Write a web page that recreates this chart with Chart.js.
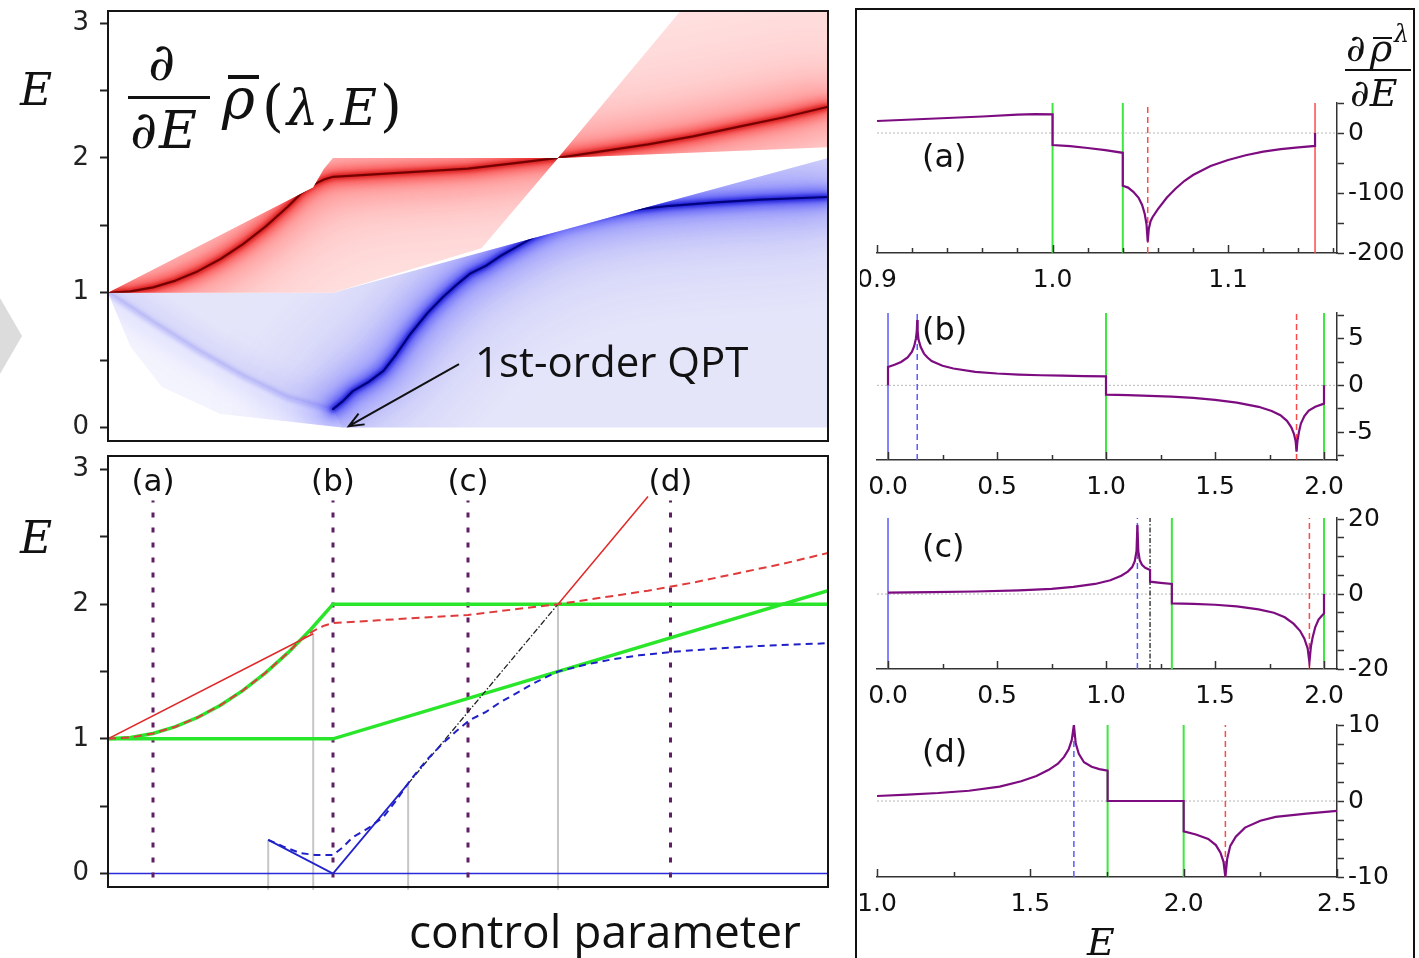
<!DOCTYPE html>
<html>
<head>
<meta charset="utf-8">
<script src="https://cdn.jsdelivr.net/npm/chart.js@4.4.0/dist/chart.umd.min.js"></script>
<style>
html, body { margin: 0; padding: 0; background: #fff; }
body { width: 1419px; height: 958px; position: relative; overflow: hidden; color: #111; }
canvas { position: absolute; }
.t { position: absolute; line-height: 1; white-space: nowrap; z-index: 5; }
.math { font-family: 'DejaVu Serif', serif; font-style: italic; }
.up { font-style: normal; }
.sans { font-family: 'DejaVu Sans', sans-serif; }
.note { font-family: 'Open Sans', sans-serif; }
.bar { position: absolute; background: #111; z-index: 5; }
#chevron { position: absolute; left: 0; top: 298px; width: 22px; height: 76px; background: #dcdcdc;
  clip-path: polygon(0 0, 100% 50%, 0 100%); }
#rightBox { position: absolute; left: 855px; top: 8px; width: 560px; height: 970px;
  border: 2px solid #111; box-sizing: border-box; }
</style>
</head>
<body>
<div id="chevron"></div>
<div id="rightBox"></div>

<canvas id="spectrum" width="840" height="450" style="left:0;top:0"></canvas>
<canvas id="levels" width="840" height="460" style="left:0;top:450px"></canvas>
<canvas id="panelA" width="555" height="290" style="left:860px;top:12px"></canvas>
<canvas id="panelB" width="555" height="205" style="left:860px;top:300px"></canvas>
<canvas id="panelC" width="555" height="207" style="left:860px;top:505px"></canvas>
<canvas id="panelD" width="555" height="246" style="left:860px;top:712px"></canvas>

<!-- left panel labels -->
<div class="t math" style="left:20px;top:68px;font-size:44px">E</div>
<div class="t math" style="left:20px;top:516px;font-size:44px">E</div>
<div class="t math" style="left:148px;top:36px;font-size:52px">∂</div>
<div class="bar" style="left:128px;top:96px;width:82px;height:3px"></div>
<div class="t math" style="left:130px;top:104px;font-size:52px;letter-spacing:2px">∂E</div>
<div class="bar" style="left:228px;top:75px;width:31px;height:4px"></div>
<div class="t math" style="left:222px;top:71px;font-size:56px">ρ</div>
<div class="t math" style="left:262px;top:83px;font-size:50px;letter-spacing:3px"><span class="up" style="font-size:56px;line-height:0">(</span>λ,E<span class="up" style="font-size:56px;line-height:0">)</span></div>
<div class="t note" style="left:475px;top:340px;font-size:42px">1st-order QPT</div>
<div class="t note" style="left:409px;top:907px;font-size:46px">control parameter</div>

<!-- right panel labels -->
<div class="t math" style="left:1346px;top:29px;font-size:38px">∂</div>
<div class="bar" style="left:1373px;top:37px;width:19px;height:2px"></div>
<div class="t math" style="left:1370px;top:29px;font-size:38px">ρ</div>
<div class="t math" style="left:1394px;top:22px;font-size:24px">λ</div>
<div class="bar" style="left:1345px;top:69px;width:66px;height:2px"></div>
<div class="t math" style="left:1350px;top:74px;font-size:38px">∂E</div>
<div class="t sans" style="left:922px;top:140px;font-size:32px">(a)</div>
<div class="t sans" style="left:922px;top:313px;font-size:32px">(b)</div>
<div class="t sans" style="left:922px;top:530px;font-size:32px">(c)</div>
<div class="t sans" style="left:922px;top:735px;font-size:32px">(d)</div>
<div class="t math" style="left:1087px;top:923px;font-size:38px">E</div>

<script>
// ---------- left panels: energy E against control parameter λ ----------
const lamRange = [0, 1.6];
const eRangeTop = [-0.1, 3.09];
const eRangeBottom = [-0.1, 3.1];
const eTicks = [0, 0.5, 1, 1.5, 2, 2.5, 3];
const eTickLabels = ['0', '', '1', '', '2', '', '3'];

// lower panel curves
const greenFlatX = [0, 0.5, 1.6];
const greenFlatE = [1, 1, 2.1];
const greenBendX = [0, 0.05, 0.1, 0.15, 0.2, 0.25, 0.3, 0.35, 0.4, 0.45, 0.5, 1.6];
const greenBendE = [1, 1.01, 1.04, 1.09, 1.16, 1.25, 1.36, 1.49, 1.64, 1.81, 2.0, 2.0];
const redDashX = [0, 0.05, 0.1, 0.15, 0.2, 0.25, 0.3, 0.35, 0.4, 0.43, 0.456, 0.48, 0.5, 0.6, 0.7, 0.8, 0.9, 1.0, 1.1, 1.2, 1.3, 1.4, 1.5, 1.6];
const redDashE = [1, 1.01, 1.04, 1.09, 1.16, 1.25, 1.36, 1.49, 1.64, 1.74, 1.8, 1.84, 1.86, 1.88, 1.9, 1.92, 1.96, 2.0, 2.05, 2.1, 2.16, 2.23, 2.3, 2.38];
const redSolidX = [0, 0.456];
const redSolidE = [1, 1.78];
const redSteepX = [1.0, 1.2];
const redSteepE = [2.0, 2.8];
const dashDotX = [0.667, 1.0];
const dashDotE = [0.667, 2.0];
const blueSolidX = [0.356, 0.5, 0.667];
const blueSolidE = [0.25, 0, 0.667];
const blueZeroX = [0, 1.6];
const blueZeroE = [0, 0];
const blueDashX = [0.356, 0.39, 0.427, 0.46, 0.5, 0.52, 0.544, 0.58, 0.612, 0.64, 0.671, 0.71, 0.745, 0.775, 0.804, 0.84, 0.871, 0.908, 0.95, 1.0, 1.06, 1.12, 1.18, 1.25, 1.35, 1.45, 1.6];
const blueDashE = [0.25, 0.2, 0.152, 0.138, 0.137, 0.19, 0.27, 0.34, 0.42, 0.54, 0.69, 0.85, 0.97, 1.06, 1.14, 1.2, 1.27, 1.34, 1.42, 1.5, 1.55, 1.59, 1.62, 1.645, 1.67, 1.69, 1.71];
const grayLineX = [0.356, 0.456, 0.667, 1.0];
const grayLineTopE = [0.25, 1.78, 0.667, 2.0];
const grayLineBottomE = -0.12;
const cutX = [0.1, 0.5, 0.8, 1.25];
const cutLabels = ['(a)', '(b)', '(c)', '(d)'];
const cutSpanE = [-0.03, 2.77];

// upper panel: edges of the red and blue density bands and a faint blue ridge
const redBandUpperX = [0, 0.456, 0.48, 0.5, 1.0];
const redBandUpperE = [1, 1.78, 1.92, 2.0, 2.0];
const redBandLowerX = [0, 0.5, 0.83, 1.0];
const redBandLowerE = [1, 1, 1.33, 2.0];
const redWedgeUpperX = [1.0, 1.272, 1.6];
const redWedgeUpperE = [2.0, 3.09, 3.09];
const redWedgeLowerX = [1.0, 1.6];
const redWedgeLowerE = [2.0, 2.08];
const blueBandUpperX = [0, 0.5, 1.6];
const blueBandUpperE = [1, 1, 2.0];
const blueBandLowerX = [0, 0.1, 0.2, 0.3, 0.4, 0.5, 0.52, 1.6];
const blueBandLowerE = [1, 0.78, 0.57, 0.38, 0.22, 0.13, 0, 0];
const blueFringeX = [0, 0.05, 0.12, 0.25, 0.52];
const blueFringeE = [1, 0.6, 0.3, 0.1, 0];
const blueFaintX = [0, 0.1, 0.2, 0.3, 0.4, 0.5];
const blueFaintE = [1, 0.78, 0.57, 0.38, 0.22, 0.13];
const qptArrowTail = [0.78, 0.47];
const qptArrowHead = [0.535, 0.01];

// ---------- right panels: d(rho)/dE against E ----------
const aTicksX = [0.9, 0.92, 0.94, 0.96, 0.98, 1.0, 1.02, 1.04, 1.06, 1.08, 1.1, 1.12, 1.14, 1.16];
const aTickLabelsX = ['0.9', '', '', '', '', '1.0', '', '', '', '', '1.1', '', '', ''];
const aTicksY = [-200, -150, -100, -50, 0, 50];
const aTickLabelsY = ['-200', '', '-100', '', '0', ''];
const aCurveE = [0.9, 0.92, 0.94, 0.96, 0.98, 0.99, 1.0, 1.0, 1.01, 1.02, 1.03, 1.04, 1.04, 1.043, 1.046, 1.049, 1.051, 1.0525, 1.0535, 1.0542, 1.0548, 1.0558, 1.057, 1.06, 1.065, 1.07, 1.075, 1.08, 1.09, 1.1, 1.11, 1.12, 1.13, 1.14, 1.1495, 1.1495];
const aCurveD = [20, 22.5, 25, 27.5, 30.5, 31.5, 31, -20, -22, -25, -28.5, -33, -88, -91, -98, -108, -120, -135, -152, -181, -160, -147, -140, -127, -108, -93, -80, -70, -55, -45, -37, -31, -27, -24, -21.5, 0];
const aGreenE = [1.0, 1.04];
const aRedDashE = [1.0542];
const aRedE = [1.1495];

const bcTicksX = [0, 0.25, 0.5, 0.75, 1.0, 1.25, 1.5, 1.75, 2.0];
const bcTickLabelsX = ['0.0', '', '0.5', '', '1.0', '', '1.5', '', '2.0'];
const bTicksY = [-7.5, -5, -2.5, 0, 2.5, 5, 7.5];
const bTickLabelsY = ['', '-5', '', '0', '', '5', ''];
const bCurveE = [0, 0, 0.03, 0.06, 0.09, 0.11, 0.12, 0.128, 0.132, 0.134, 0.136, 0.14, 0.15, 0.165, 0.18, 0.2, 0.25, 0.3, 0.4, 0.5, 0.6, 0.7, 0.8, 0.9, 1.0, 1.0, 1.1, 1.2, 1.3, 1.4, 1.5, 1.6, 1.7, 1.76, 1.8, 1.83, 1.85, 1.862, 1.87, 1.874, 1.878, 1.885, 1.894, 1.91, 1.93, 1.96, 2.0, 2.0];
const bCurveD = [0, 1.96, 2.2, 2.5, 3.0, 3.6, 4.2, 5.0, 5.8, 7.0, 5.8, 4.9, 4.1, 3.4, 3.0, 2.6, 2.1, 1.8, 1.45, 1.27, 1.15, 1.08, 1.03, 0.99, 0.96, -1.0, -1.05, -1.12, -1.22, -1.35, -1.55, -1.85, -2.3, -2.75, -3.2, -3.8, -4.5, -5.2, -6.0, -7.1, -6.0, -5.0, -4.1, -3.3, -2.7, -2.3, -1.96, 0];
const bBlueE = [0];
const bBlueDashE = [0.134];
const bGreenE = [1.0, 2.0];
const bRedDashE = [1.874];

const cTicksY = [-20, -15, -10, -5, 0, 5, 10, 15, 20];
const cTickLabelsY = ['-20', '', '', '', '0', '', '', '', '20'];
const cCurveE = [0, 0.2, 0.4, 0.6, 0.75, 0.85, 0.95, 1.02, 1.07, 1.1, 1.12, 1.132, 1.14, 1.144, 1.148, 1.155, 1.165, 1.18, 1.202, 1.202, 1.25, 1.302, 1.302, 1.4, 1.5, 1.6, 1.7, 1.77, 1.82, 1.86, 1.89, 1.91, 1.925, 1.933, 1.94, 1.948, 1.96, 1.975, 1.99, 2.0, 2.0];
const cCurveD = [0.36, 0.5, 0.68, 1.0, 1.4, 1.9, 2.7, 3.7, 4.9, 6.0, 7.2, 8.8, 11.5, 18.4, 11.5, 9.0, 7.8, 7.0, 6.45, 3.3, 3.0, 2.7, -2.5, -2.6, -2.85, -3.3, -4.1, -5.0, -6.2, -7.9, -9.8, -11.9, -14.5, -18.2, -14, -11.5, -8.8, -6.8, -5.8, -5.2, 0];
const cBlueE = [0];
const cBlueDashE = [1.144];
const cDashDotE = [1.202];
const cGreenE = [1.302, 2.0];
const cRedDashE = [1.933];

const dTicksX = [1.0, 1.25, 1.5, 1.75, 2.0, 2.25, 2.5];
const dTickLabelsX = ['1.0', '', '1.5', '', '2.0', '', '2.5'];
const dTicksY = [-10, -7.5, -5, -2.5, 0, 2.5, 5, 7.5, 10];
const dTickLabelsY = ['-10', '', '', '', '0', '', '', '', '10'];
const dCurveE = [1.0, 1.1, 1.2, 1.3, 1.4, 1.47, 1.52, 1.56, 1.59, 1.61, 1.625, 1.635, 1.642, 1.648, 1.658, 1.675, 1.7, 1.725, 1.752, 1.752, 2.0, 2.0, 2.04, 2.08, 2.105, 2.12, 2.13, 2.136, 2.142, 2.152, 2.17, 2.2, 2.25, 2.3, 2.4, 2.5];
const dCurveD = [0.66, 0.85, 1.05, 1.35, 1.9, 2.6, 3.3, 4.1, 4.9, 5.8, 6.8, 8.0, 10, 7.6, 6.2, 5.1, 4.5, 4.2, 4.0, 0, 0, -4.0, -4.4, -5.0, -5.8, -6.8, -8.0, -10, -7.6, -5.9, -4.7, -3.5, -2.6, -2.1, -1.65, -1.3];
const dBlueDashE = [1.642];
const dGreenE = [1.752, 2.0];
const dRedDashE = [2.136];

// ---------- helpers ----------
Chart.defaults.font.family = 'DejaVu Sans';

const pts = (xs, ys) => xs.map((x, i) => ({ x: x, y: ys[i] }));
const polygon = (ux, ue, lx, le) => pts(ux, ue).concat(pts(lx, le).reverse());

function lineDs(xs, ys, color, width, dash, extra) {
  return Object.assign({
    data: pts(xs, ys), showLine: true, borderColor: color, borderWidth: width,
    borderDash: dash || [], pointRadius: 0, pointHoverRadius: 0, fill: false, tension: 0
  }, extra || {});
}

// first entry is painted first (lowest)
function paintOrder(list) {
  return list.map((d, i) => Object.assign(d, { order: list.length - i }));
}

function tracePolys(ctx, chart, polys) {
  const sx = chart.scales.x, sy = chart.scales.y;
  ctx.beginPath();
  polys.forEach(pl => {
    pl.forEach((p, i) => {
      const px = sx.getPixelForValue(p.x), py = sy.getPixelForValue(p.y);
      if (i === 0) ctx.moveTo(px, py); else ctx.lineTo(px, py);
    });
    ctx.closePath();
  });
}

// datasets carrying clipTo are only painted inside those polygons,
// and those carrying blur are softened into a density halo
Chart.register({
  id: 'regionClip',
  beforeDatasetDraw(chart, args) {
    const ds = chart.data.datasets[args.index];
    if (!ds.clipTo && !ds.blur) return;
    const ctx = chart.ctx;
    ctx.save();
    if (ds.clipTo) {
      tracePolys(ctx, chart, ds.clipTo);
      ctx.clip();
    }
    if (ds.blur) ctx.filter = 'blur(' + ds.blur + 'px)';
  },
  afterDatasetDraw(chart, args) {
    const ds = chart.data.datasets[args.index];
    if (ds.clipTo || ds.blur) chart.ctx.restore();
  }
});

const framePlugin = {
  id: 'frame',
  afterDraw(chart) {
    const { ctx, chartArea: a } = chart;
    ctx.save();
    ctx.strokeStyle = '#151515';
    ctx.lineWidth = 2;
    ctx.strokeRect(a.left, a.top, a.right - a.left, a.bottom - a.top);
    ctx.restore();
  }
};

// x tick marks pointing into the plot
const innerTicksPlugin = {
  id: 'innerTicks',
  afterDatasetsDraw(chart) {
    const { ctx, chartArea: a } = chart;
    const sx = chart.scales.x;
    ctx.save();
    ctx.strokeStyle = '#333';
    ctx.lineWidth = 1.5;
    sx.ticks.forEach(t => {
      const px = Math.round(sx.getPixelForValue(t.value)) + 0.5;
      const len = t.label ? 8 : 5;
      ctx.beginPath();
      ctx.moveTo(px, a.bottom);
      ctx.lineTo(px, a.bottom - len);
      ctx.stroke();
    });
    ctx.restore();
  }
};

const fixedTicks = values => axis => { axis.ticks = values.map(v => ({ value: v })); };
const labelFrom = labels => (v, i) => labels[i];

// fixed axis thickness and no extra room for the end labels
function fixSize(prop, size) {
  return s => {
    s[prop] = size;
    s.paddingTop = 0; s.paddingBottom = 0; s.paddingLeft = 0; s.paddingRight = 0;
  };
}

function leftYAxis(range) {
  return {
    type: 'linear', position: 'left', min: range[0], max: range[1],
    afterBuildTicks: fixedTicks(eTicks),
    afterFit: fixSize('width', 108),
    border: { display: false },
    grid: { drawOnChartArea: false, drawTicks: true, tickLength: 8, tickWidth: 2, tickColor: '#222' },
    ticks: { callback: labelFrom(eTickLabels), font: { size: 26 }, color: '#222', padding: 11, autoSkip: false }
  };
}

function baseOptions(padding, scales) {
  return {
    responsive: false, animation: false, devicePixelRatio: 1, events: [],
    layout: { padding: padding },
    plugins: { legend: { display: false }, tooltip: { enabled: false } },
    scales: scales
  };
}

// ---------- upper left: density of the two bands ----------
const redBand = polygon(redBandUpperX, redBandUpperE, redBandLowerX, redBandLowerE);
const redWedge = polygon(redWedgeUpperX, redWedgeUpperE, redWedgeLowerX, redWedgeLowerE);
const blueBand = polygon(blueBandUpperX, blueBandUpperE, blueBandLowerX, blueBandLowerE);
const blueFringe = polygon(blueFaintX, blueFaintE, blueFringeX, blueFringeE);

const bandFills = [
  { poly: blueFringe, color: 'rgb(244,244,254)' },
  { poly: blueBand, color: 'rgb(229,229,250)' },
  { poly: redBand, color: 'rgb(255,226,226)' },
  { poly: redWedge, color: 'rgb(255,224,224)' }
];

// [line width, colour, blur radius]
const RED_GLOW = [
  [90, 'rgba(255,90,90,0.30)', 40], [40, 'rgba(255,40,40,0.35)', 16],
  [14, 'rgba(240,0,0,0.55)', 6], [5, 'rgba(200,0,0,0.8)', 2], [2.2, 'rgba(110,0,0,0.95)', 0.6]
];
const BLUE_GLOW = [
  [90, 'rgba(90,90,255,0.26)', 40], [40, 'rgba(40,40,255,0.32)', 16],
  [14, 'rgba(0,0,240,0.5)', 6], [5, 'rgba(0,0,200,0.8)', 2], [2.2, 'rgba(0,0,120,0.95)', 0.6]
];
const BLUE_FAINT_GLOW = [
  [26, 'rgba(90,90,255,0.14)', 12], [4, 'rgba(70,70,235,0.3)', 2]
];

function glowLayers(xs, ys, layers, clipTo) {
  return layers.map(([w, c, b]) => lineDs(xs, ys, c, w, null, {
    clipTo: clipTo, blur: b, borderCapStyle: 'round', borderJoinStyle: 'round'
  }));
}

const bandPlugin = {
  id: 'bands',
  beforeDatasetsDraw(chart) {
    const { ctx, chartArea: a } = chart;
    ctx.save();
    ctx.beginPath();
    ctx.rect(a.left, a.top, a.right - a.left, a.bottom - a.top);
    ctx.clip();
    bandFills.forEach(b => {
      tracePolys(ctx, chart, [b.poly]);
      ctx.fillStyle = b.color;
      ctx.fill();
    });
    ctx.restore();
  }
};

const arrowPlugin = {
  id: 'qptArrow',
  afterDatasetsDraw(chart) {
    const { ctx } = chart;
    const sx = chart.scales.x, sy = chart.scales.y;
    const x0 = sx.getPixelForValue(qptArrowTail[0]), y0 = sy.getPixelForValue(qptArrowTail[1]);
    const x1 = sx.getPixelForValue(qptArrowHead[0]), y1 = sy.getPixelForValue(qptArrowHead[1]);
    const ang = Math.atan2(y1 - y0, x1 - x0), head = 16;
    ctx.save();
    ctx.strokeStyle = '#111';
    ctx.lineWidth = 2;
    ctx.beginPath();
    ctx.moveTo(x0, y0);
    ctx.lineTo(x1, y1);
    ctx.moveTo(x1 - head * Math.cos(ang - 0.4), y1 - head * Math.sin(ang - 0.4));
    ctx.lineTo(x1, y1);
    ctx.lineTo(x1 - head * Math.cos(ang + 0.4), y1 - head * Math.sin(ang + 0.4));
    ctx.stroke();
    ctx.restore();
  }
};

const redClip = [redBand, redWedge];
const blueClip = [blueBand, blueFringe];
// the strong blue ridge starts at the bottom of the dip
const ridgeStart = blueDashX.findIndex(x => x >= 0.5);
const blueRidgeX = blueDashX.slice(ridgeStart);
const blueRidgeE = blueDashE.slice(ridgeStart);

new Chart(document.getElementById('spectrum'), {
  type: 'scatter',
  data: {
    datasets: paintOrder([].concat(
      glowLayers(blueFaintX, blueFaintE, BLUE_FAINT_GLOW, blueClip),
      glowLayers(blueRidgeX, blueRidgeE, BLUE_GLOW, blueClip),
      glowLayers(redDashX, redDashE, RED_GLOW, redClip)
    ))
  },
  options: baseOptions({ top: 11, right: 12, bottom: 9, left: 0 }, {
    x: { type: 'linear', min: lamRange[0], max: lamRange[1], display: false },
    y: leftYAxis(eRangeTop)
  }),
  plugins: [bandPlugin, arrowPlugin, framePlugin]
});

// ---------- lower left: characteristic energies ----------
const levelSets = [].concat(
  grayLineX.map((x, i) => lineDs([x, x], [grayLineBottomE, grayLineTopE[i]], '#c6c6c6', 2, null, { clip: false })),
  [lineDs(blueZeroX, blueZeroE, '#2a2ad8', 1.5)],
  cutX.map(x => lineDs([x, x], cutSpanE, '#5e1f63', 3, [5, 10])),
  [
    lineDs(greenFlatX, greenFlatE, '#2ae62a', 3.5),
    lineDs(greenBendX, greenBendE, '#2ae62a', 3.5),
    lineDs(redSolidX, redSolidE, '#e02828', 1.5),
    lineDs(redSteepX, redSteepE, '#e02828', 1.5),
    lineDs(blueSolidX, blueSolidE, '#2323cc', 1.8),
    lineDs(dashDotX, dashDotE, '#222', 1.3, [6, 2, 1.5, 2]),
    lineDs(redDashX, redDashE, '#e03a3a', 2, [8, 5]),
    lineDs(blueDashX, blueDashE, '#2020c8', 2, [7, 5])
  ]
);

const levels = new Chart(document.getElementById('levels'), {
  type: 'scatter',
  data: { datasets: paintOrder(levelSets) },
  options: baseOptions({ top: 6, right: 12, bottom: 23, left: 0 }, {
    x: { type: 'linear', min: lamRange[0], max: lamRange[1], display: false },
    y: leftYAxis(eRangeBottom)
  }),
  plugins: [framePlugin]
});

// labels over the four cuts, placed from the λ scale
cutX.forEach((v, i) => {
  const el = document.createElement('div');
  el.className = 't sans';
  el.textContent = cutLabels[i];
  el.style.fontSize = '31px';
  el.style.top = '465px';
  el.style.left = levels.scales.x.getPixelForValue(v) + 'px';
  el.style.transform = 'translateX(-50%)';
  document.body.appendChild(el);
});

// ---------- right column ----------
const PURPLE = '#7d0c80';
const GREEN = '#3be83b';
const RED = '#ff4a4a';
const BLUE = '#5a5aff';

function markers(values, range, color, width, dash) {
  return values.map(v => lineDs([v, v], range, color, width, dash));
}

function panel(id, c) {
  const yRange = [c.yMin, c.yMax];
  const sets = [lineDs([c.xMin, c.xMax], [0, 0], '#b5b5b5', 1, [2, 2])].concat(
    markers(c.blue || [], yRange, BLUE, 1.5),
    markers(c.blueDash || [], yRange, BLUE, 1.5, [6, 4]),
    markers(c.dashDot || [], yRange, '#222', 1.3, [5, 2, 1.5, 2]),
    markers(c.green || [], yRange, GREEN, 2),
    markers(c.redDash || [], yRange, RED, 1.5, [6, 4]),
    markers(c.red || [], yRange, RED, 1.5),
    [lineDs(c.curveX, c.curveY, PURPLE, 2.2)]
  );
  return new Chart(document.getElementById(id), {
    type: 'scatter',
    data: { datasets: paintOrder(sets) },
    options: baseOptions({ top: c.padTop, left: 17, right: 0, bottom: 0 }, {
      x: {
        type: 'linear', position: 'bottom', min: c.xMin, max: c.xMax,
        afterBuildTicks: fixedTicks(c.xTicks),
        afterFit: fixSize('height', c.xAxisH),
        border: { display: true, color: '#333', width: 1.5 },
        grid: { drawOnChartArea: false, drawTicks: false },
        ticks: { callback: labelFrom(c.xLabels), font: { size: 25 }, color: '#111', padding: 12, autoSkip: false, maxRotation: 0 }
      },
      y: {
        type: 'linear', position: 'right', min: c.yMin, max: c.yMax,
        afterBuildTicks: fixedTicks(c.yTicks),
        afterFit: fixSize('width', 78),
        border: { display: true, color: '#333', width: 1.5 },
        grid: { drawOnChartArea: false, drawTicks: true, tickLength: 7, tickWidth: 1.5, tickColor: '#333' },
        ticks: { callback: labelFrom(c.yLabels), font: { size: 25 }, color: '#111', padding: 4, autoSkip: false }
      }
    }),
    plugins: [innerTicksPlugin]
  });
}

panel('panelA', {
  xMin: 0.9, xMax: 1.162, yMin: -200, yMax: 50, padTop: 91, xAxisH: 49,
  xTicks: aTicksX, xLabels: aTickLabelsX, yTicks: aTicksY, yLabels: aTickLabelsY,
  curveX: aCurveE, curveY: aCurveD, green: aGreenE, redDash: aRedDashE, red: aRedE
});
panel('panelB', {
  xMin: -0.0505, xMax: 2.0596, yMin: -8, yMax: 7.75, padTop: 13, xAxisH: 45,
  xTicks: bcTicksX, xLabels: bcTickLabelsX, yTicks: bTicksY, yLabels: bTickLabelsY,
  curveX: bCurveE, curveY: bCurveD, blue: bBlueE, blueDash: bBlueDashE, green: bGreenE, redDash: bRedDashE
});
panel('panelC', {
  xMin: -0.0505, xMax: 2.0596, yMin: -20, yMax: 20.3, padTop: 13, xAxisH: 43,
  xTicks: bcTicksX, xLabels: bcTickLabelsX, yTicks: cTicksY, yLabels: cTickLabelsY,
  curveX: cCurveE, curveY: cCurveD, blue: cBlueE, blueDash: cBlueDashE, dashDot: cDashDotE, green: cGreenE, redDash: cRedDashE
});
panel('panelD', {
  xMin: 1.0, xMax: 2.5, yMin: -10, yMax: 10, padTop: 13, xAxisH: 81,
  xTicks: dTicksX, xLabels: dTickLabelsX, yTicks: dTicksY, yLabels: dTickLabelsY,
  curveX: dCurveE, curveY: dCurveD, blueDash: dBlueDashE, green: dGreenE, redDash: dRedDashE
});
</script>
</body>
</html>
